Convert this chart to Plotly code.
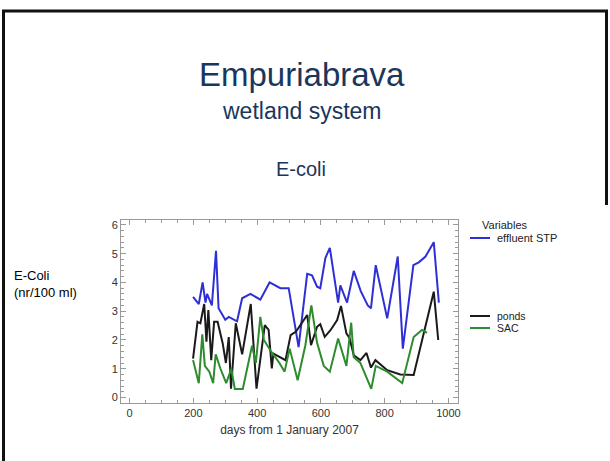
import plotly.graph_objects as go

# ---- data ----
effluent_days = [199, 217, 229, 238, 243, 258, 271, 279, 300, 311, 337, 353, 379, 410, 439, 473, 499,
                 530, 557, 572, 588, 598, 614, 628, 654, 661, 682, 703, 725, 747, 757, 772, 808, 841,
                 857, 890, 907, 928, 954, 970]
effluent_vals = [3.5, 3.25, 4.0, 3.3, 3.6, 3.2, 5.1, 3.1, 2.7, 2.8, 2.65, 3.45, 3.6, 3.4, 4.0, 3.8, 3.8,
                 1.75, 4.3, 4.25, 3.85, 3.8, 4.85, 5.2, 3.3, 3.9, 3.3, 4.4, 3.7, 3.2, 3.1, 4.6, 2.75, 4.9,
                 1.7, 4.6, 4.7, 4.9, 5.4, 3.3]

ponds_days = [199, 213, 222, 234, 241, 247, 256, 265, 276, 292, 302, 311, 318, 333, 353, 380, 398,
              424, 436, 446, 451, 478, 489, 505, 522, 557, 569, 588, 598, 612, 630, 651, 663, 680,
              690, 703, 724, 743, 757, 771, 808, 849, 891, 954, 968]
ponds_vals = [1.35, 2.63, 2.58, 3.25, 1.94, 3.04, 1.3, 2.63, 2.63, 1.88, 1.2, 2.1, 0.31, 2.58, 1.5, 3.25,
              0.31, 2.52, 2.35, 1.01, 1.53, 1.36, 1.3, 2.17, 2.29, 2.87, 1.82, 2.46, 2.55, 2.11, 2.34,
              2.69, 3.18, 2.23, 2.06, 1.47, 1.3, 1.55, 1.04, 1.3, 0.95, 0.8, 0.78, 3.68, 2.0]

sac_days = [199, 217, 228, 236, 250, 262, 270, 285, 303, 319, 330, 355, 384, 396, 410, 421, 447, 470,
            486, 502, 527, 551, 570, 588, 609, 628, 654, 680, 695, 703, 724, 758, 772, 808, 855, 891,
            917, 933]
sac_vals = [1.3, 0.5, 2.2, 1.1, 0.9, 0.5, 1.5, 1.0, 0.5, 1.0, 0.3, 0.3, 1.8, 1.2, 2.8, 2.0, 1.55, 1.2,
            0.9, 1.7, 0.6, 1.8, 3.2, 1.9, 1.1, 0.9, 2.05, 1.1, 2.6, 1.4, 1.2, 0.3, 1.1, 0.9, 0.5, 2.1,
            2.35, 2.25]

series_names = ["effluent STP", "ponds", "SAC"]
series_colors = ["#2f2fd6", "#1a1a1a", "#2e8b2e"]
x_ticks = [0, 200, 400, 600, 800, 1000]
y_ticks = [0, 1, 2, 3, 4, 5, 6]

FONT = "Arial, Liberation Sans, sans-serif"
W, H = 610, 461
ML, MR, MT, MB = 121, 152, 220, 58
PW, PH = W - ML - MR, H - MT - MB


def px(x):
    return (x - ML) / PW


def py(y):
    return (H - MB - y) / PH


fig = go.Figure()
for d, v, name, col in zip([effluent_days, ponds_days, sac_days],
                           [effluent_vals, ponds_vals, sac_vals],
                           series_names, series_colors):
    fig.add_trace(go.Scatter(x=d, y=v, mode="lines", name=name,
                             line=dict(color=col, width=2), showlegend=False))

axis_common = dict(showline=True, linecolor="#9a9a9a", linewidth=1, mirror="ticks",
                   ticks="inside", ticklen=5, tickcolor="#9a9a9a", showgrid=False, zeroline=False,
                   tickfont=dict(family=FONT, size=11, color="#333333"))

fig.update_xaxes(range=[-27, 1030], tickvals=x_ticks,
                 minor=dict(dtick=50, ticks="inside", ticklen=3, tickcolor="#9a9a9a"),
                 title=dict(text="days from 1 January 2007", font=dict(family=FONT, size=12, color="#333333"),
                            standoff=7),
                 **axis_common)
fig.update_yaxes(range=[-0.19, 6.17], tickvals=y_ticks,
                 minor=dict(dtick=0.2, ticks="inside", ticklen=3, tickcolor="#9a9a9a"),
                 **axis_common)

annotations = [
    dict(text="Empuriabrava", x=px(302), y=py(74), font=dict(family=FONT, size=33, color="#1b365d")),
    dict(text="wetland system", x=px(302), y=py(111), font=dict(family=FONT, size=23, color="#1b365d")),
    dict(text="E-coli", x=px(301), y=py(169), font=dict(family=FONT, size=20, color="#1b365d")),
    dict(text="E-Coli<br>(nr/100 ml)", x=px(12), y=py(284), xanchor="left", align="left",
         font=dict(family=FONT, size=13, color="#000000")),
    dict(text="Variables", x=px(480), y=py(225), xanchor="left",
         font=dict(family=FONT, size=11, color="#222222")),
]
legend_y = [238, 316, 328]
legend_fs = [11, 10.5, 10.5]
shapes = []
for name, col, ly, fs in zip(series_names, series_colors, legend_y, legend_fs):
    annotations.append(dict(text=name, x=px(495), y=py(ly), xanchor="left",
                            font=dict(family=FONT, size=fs, color="#222222")))
    shapes.append(dict(type="line", xref="paper", yref="paper", x0=px(470), x1=px(490),
                       y0=py(ly), y1=py(ly), line=dict(color=col, width=2)))
for a in annotations:
    a.update(xref="paper", yref="paper", showarrow=False, yanchor=a.get("yanchor", "middle"))

# slide frame
frame = dict(color="#111111", width=3)
shapes += [
    dict(type="line", xref="paper", yref="paper", x0=px(3.5), x1=px(3.5), y0=py(10), y1=py(470), line=frame),
    dict(type="line", xref="paper", yref="paper", x0=px(2), x1=px(608), y0=py(11), y1=py(11), line=frame),
    dict(type="line", xref="paper", yref="paper", x0=px(606.5), x1=px(606.5), y0=py(10), y1=py(205), line=frame),
]

fig.update_layout(width=W, height=H, margin=dict(l=ML, r=MR, t=MT, b=MB),
                  paper_bgcolor="white", plot_bgcolor="white",
                  annotations=annotations, shapes=shapes, showlegend=False)
fig.write_html("out.html", config={"displayModeBar": False},
               post_script="document.body.style.margin='0';document.body.style.overflow='hidden';")
